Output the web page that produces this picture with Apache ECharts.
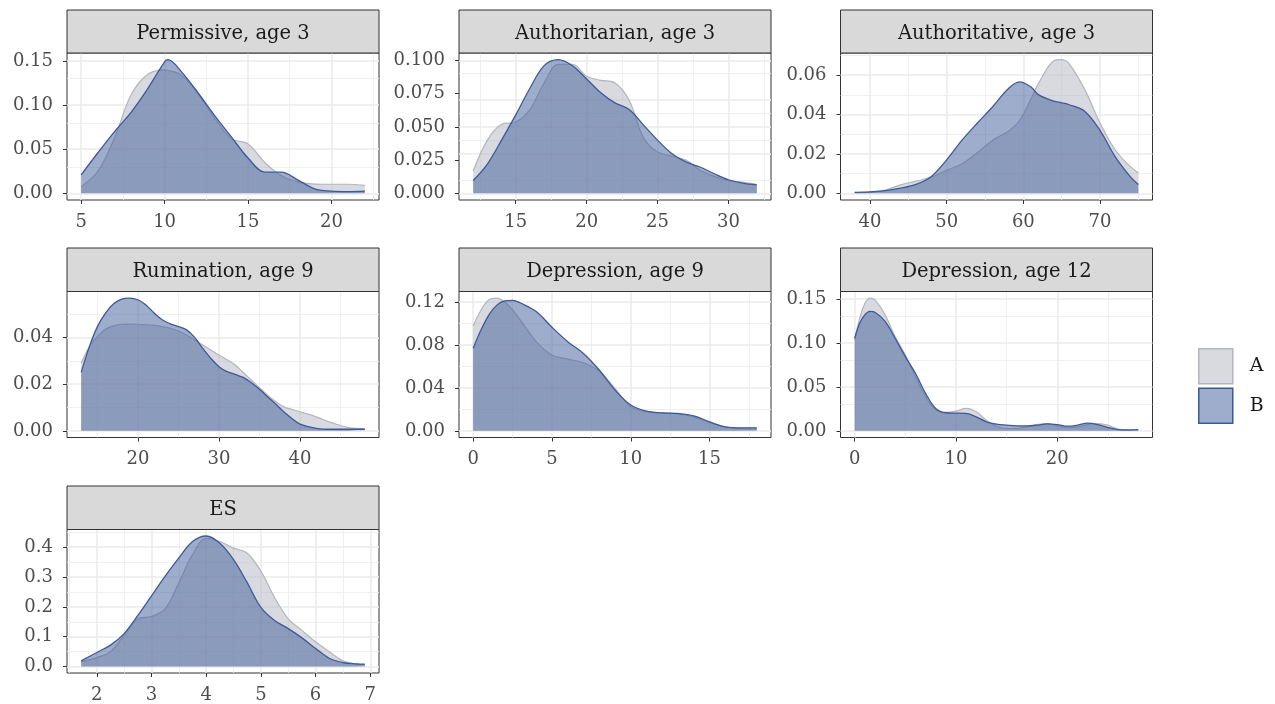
<!DOCTYPE html>
<html lang="en">
<head>
    <meta charset="UTF-8" />
    <title>Density by group</title>
    <script src="https://cdn.jsdelivr.net/npm/echarts@6/dist/echarts.min.js"></script>
    <style>
        html, body { margin: 0; padding: 0; background: #fff; }
        #main { width: 1275px; height: 704px; }
    </style>
</head>
<body>
<div id="main"></div>
<script>
    // ---- data (density estimates, groups A and B) ----
    var permX = [5, 6, 7, 8, 9, 10, 10.2, 11, 12, 13, 14, 15, 16, 17, 18, 19, 20, 21, 22];
    var permA = [0.0076, 0.025, 0.063, 0.112, 0.135, 0.140, 0.1395, 0.134, 0.113, 0.085, 0.062, 0.056, 0.035, 0.020, 0.013, 0.0105, 0.0103, 0.0103, 0.009];
    var permB = [0.021, 0.046, 0.070, 0.092, 0.119, 0.149, 0.1515, 0.138, 0.114, 0.088, 0.064, 0.040, 0.024, 0.024, 0.015, 0.005, 0.0025, 0.002, 0.0025];

    var authX = [12, 13, 14, 15, 16, 17, 18, 19, 20, 21, 22, 23, 24, 25, 26, 27, 28, 29, 30, 31, 32];
    var authA = [0.0168, 0.040, 0.052, 0.0536, 0.063, 0.083, 0.097, 0.097, 0.088, 0.085, 0.083, 0.070, 0.042, 0.031, 0.028, 0.025, 0.0173, 0.0127, 0.0096, 0.0084, 0.0066];
    var authB = [0.0096, 0.022, 0.040, 0.059, 0.079, 0.096, 0.1005, 0.096, 0.086, 0.0756, 0.068, 0.063, 0.0515, 0.040, 0.030, 0.0236, 0.0198, 0.0147, 0.0102, 0.0076, 0.0063];

    var authvX = [38, 40, 42, 44, 46, 48, 50, 52, 54, 56, 58, 59.5, 61, 62, 64, 65, 66, 68, 70, 72, 74, 75];
    var authvA = [0.0003, 0.0007, 0.0017, 0.0043, 0.0062, 0.0082, 0.0117, 0.015, 0.0206, 0.027, 0.0314, 0.037, 0.048, 0.056, 0.0674, 0.0679, 0.0657, 0.0528, 0.0357, 0.022, 0.0134, 0.0105];
    var authvB = [0.0005, 0.0007, 0.0014, 0.0026, 0.0045, 0.0086, 0.017, 0.027, 0.0357, 0.044, 0.053, 0.0566, 0.054, 0.050, 0.0468, 0.046, 0.045, 0.0417, 0.032, 0.0185, 0.0082, 0.0045];

    var rumX = [13, 14, 15, 16, 17, 18, 19, 20, 21, 22, 23, 24, 25, 26, 27, 28, 29, 30, 31, 32, 33, 34, 35, 36, 37, 38, 39, 40, 42, 44, 46, 48];
    var rumA = [0.029, 0.036, 0.0404, 0.0436, 0.045, 0.0457, 0.0458, 0.0457, 0.0455, 0.0452, 0.0447, 0.044, 0.0428, 0.0411, 0.039, 0.0368, 0.0347, 0.0325, 0.0305, 0.0282, 0.025, 0.0218, 0.0185, 0.0153, 0.0126, 0.0103, 0.0092, 0.0082, 0.006, 0.0034, 0.0014, 0.0009];
    var rumB = [0.0251, 0.036, 0.0447, 0.0505, 0.0545, 0.0565, 0.0569, 0.0562, 0.054, 0.0505, 0.0476, 0.0459, 0.0447, 0.0433, 0.0401, 0.0354, 0.0311, 0.0275, 0.0254, 0.0242, 0.0229, 0.0206, 0.0178, 0.0146, 0.0115, 0.0082, 0.0053, 0.0029, 0.0011, 0.0007, 0.0007, 0.0007];

    var dep9X = [0, 0.5, 1, 1.5, 2, 2.5, 3, 4, 5, 6, 7, 8, 9, 10, 11, 12, 13, 14, 15, 16, 17, 18];
    var dep9A = [0.0976, 0.1125, 0.122, 0.1235, 0.120, 0.1125, 0.103, 0.083, 0.0706, 0.0668, 0.0634, 0.0556, 0.0395, 0.0224, 0.0177, 0.0168, 0.0158, 0.013, 0.0078, 0.0037, 0.0022, 0.0016];
    var dep9B = [0.0768, 0.094, 0.108, 0.117, 0.121, 0.1215, 0.119, 0.111, 0.0964, 0.083, 0.072, 0.0566, 0.038, 0.024, 0.0183, 0.0168, 0.0162, 0.014, 0.0084, 0.0037, 0.0028, 0.0028];

    var dep12X = [0, 0.5, 1, 1.5, 2, 3, 4, 5, 6, 7, 8, 9, 10, 11, 12, 13, 14, 15, 16, 17, 18, 19, 20, 21, 22, 23, 24, 25, 26, 27, 28];
    var dep12A = [0.1035, 0.128, 0.145, 0.151, 0.149, 0.132, 0.107, 0.0864, 0.0617, 0.0388, 0.0236, 0.021, 0.0225, 0.0255, 0.0217, 0.0122, 0.0053, 0.0027, 0.0027, 0.0046, 0.0072, 0.0084, 0.0057, 0.0038, 0.0046, 0.0072, 0.0084, 0.0065, 0.0019, 0.0008, 0.0004];
    var dep12B = [0.1054, 0.1226, 0.132, 0.136, 0.135, 0.1245, 0.1054, 0.0845, 0.0655, 0.0426, 0.0255, 0.0206, 0.0202, 0.0198, 0.016, 0.0103, 0.0076, 0.0065, 0.0057, 0.0057, 0.0065, 0.008, 0.0072, 0.0053, 0.0065, 0.0088, 0.0072, 0.0038, 0.0015, 0.0011, 0.0015];

    var esX = [1.714, 2, 2.25, 2.5, 2.75, 3, 3.25, 3.5, 3.75, 4, 4.25, 4.5, 4.75, 5, 5.25, 5.5, 5.75, 6, 6.25, 6.5, 6.75, 6.9];
    var esA = [0.0165, 0.0298, 0.0496, 0.105, 0.160, 0.1675, 0.193, 0.281, 0.375, 0.43, 0.419, 0.397, 0.380, 0.320, 0.231, 0.16, 0.121, 0.0826, 0.0496, 0.0187, 0.0077, 0.0055];
    var esB = [0.0187, 0.047, 0.0716, 0.110, 0.171, 0.237, 0.303, 0.364, 0.419, 0.4375, 0.413, 0.358, 0.281, 0.198, 0.154, 0.127, 0.096, 0.0606, 0.0275, 0.0132, 0.0088, 0.0077];

    // tick labels
    var permXTicks = [5, 10, 15, 20],       permYTicks = [0, 0.05, 0.10, 0.15];
    var authXTicks = [15, 20, 25, 30],      authYTicks = [0, 0.025, 0.05, 0.075, 0.1];
    var authvXTicks = [40, 50, 60, 70],     authvYTicks = [0, 0.02, 0.04, 0.06];
    var rumXTicks = [20, 30, 40],           rumYTicks = [0, 0.02, 0.04];
    var dep9XTicks = [0, 5, 10, 15],        dep9YTicks = [0, 0.04, 0.08, 0.12];
    var dep12XTicks = [0, 10, 20],          dep12YTicks = [0, 0.05, 0.10, 0.15];
    var esXTicks = [2, 3, 4, 5, 6, 7],      esYTicks = [0, 0.1, 0.2, 0.3, 0.4];

    var panels = [
        {title: 'Permissive, age 3',    x: permX,  a: permA,  b: permB,  xt: permXTicks,  yt: permYTicks,  dec: 2},
        {title: 'Authoritarian, age 3', x: authX,  a: authA,  b: authB,  xt: authXTicks,  yt: authYTicks,  dec: 3},
        {title: 'Authoritative, age 3', x: authvX, a: authvA, b: authvB, xt: authvXTicks, yt: authvYTicks, dec: 2},
        {title: 'Rumination, age 9',    x: rumX,   a: rumA,   b: rumB,   xt: rumXTicks,   yt: rumYTicks,   dec: 2},
        {title: 'Depression, age 9',    x: dep9X,  a: dep9A,  b: dep9B,  xt: dep9XTicks,  yt: dep9YTicks,  dec: 2},
        {title: 'Depression, age 12',   x: dep12X, a: dep12A, b: dep12B, xt: dep12XTicks, yt: dep12YTicks, dec: 2},
        {title: 'ES',                   x: esX,    a: esA,    b: esB,    xt: esXTicks,    yt: esYTicks,    dec: 1}
    ];

    // ---- layout / style ----
    var FONT = 'DejaVu Serif';
    var colLeft = [67, 459, 840.5];
    var colW = 312;
    var rowPos = [
        {strip: 10,  top: 53,    h: 147},
        {strip: 248, top: 291.5, h: 146},
        {strip: 486, top: 529.5, h: 145}
    ];
    var A_LINE = '#b3b5bf', A_FILL = '#b3b5bf';
    var B_LINE = '#3b5a9a', B_FILL = '#3d5b99';

    function zip(xs, ys) {
        return xs.map(function (v, i) { return [v, ys[i]]; });
    }
    // ggplot-style minor breaks: midpoints between majors, plus half a step outside
    function minors(ticks, lo, hi) {
        var step = ticks[1] - ticks[0], out = [];
        for (var i = -1; i < ticks.length; i++) {
            var m = ticks[0] + step * (i + 0.5);
            if (m > lo && m < hi) out.push(m);
        }
        return out;
    }

    var grids = [], xAxes = [], yAxes = [], series = [], graphics = [];

    panels.forEach(function (p, i) {
        var r = rowPos[Math.floor(i / 3)], left = colLeft[i % 3];
        var xmin = Math.min.apply(null, p.x), xmax = Math.max.apply(null, p.x);
        var xpad = (xmax - xmin) * 0.05;
        var ymax = Math.max(Math.max.apply(null, p.a), Math.max.apply(null, p.b));
        var xlo = xmin - xpad, xhi = xmax + xpad, ylo = -0.05 * ymax, yhi = 1.05 * ymax;

        grids.push({
            left: left, top: r.top, width: colW, height: r.h,
            show: true, backgroundColor: '#fff', borderColor: '#333333', borderWidth: 1
        });
        xAxes.push({
            type: 'value', gridIndex: i, min: xlo, max: xhi,
            axisLine: {show: false, onZero: false},
            axisTick: {show: true, length: 4, lineStyle: {color: '#333333', width: 1}, customValues: p.xt},
            axisLabel: {customValues: p.xt, color: '#4d4d4d', fontFamily: FONT, fontSize: 18, margin: 13,
                formatter: function (v) { return String(Math.round(v)); }},
            splitLine: {show: false}
        });
        yAxes.push({
            type: 'value', gridIndex: i, min: ylo, max: yhi,
            axisLine: {show: false, onZero: false},
            axisTick: {show: true, length: 4, lineStyle: {color: '#333333', width: 1}, customValues: p.yt},
            axisLabel: {customValues: p.yt, color: '#4d4d4d', fontFamily: FONT, fontSize: 18, margin: 14,
                formatter: (function (d) { return function (v) { return v.toFixed(d); }; })(p.dec)},
            splitLine: {show: false}
        });

        // panel grid lines (major + minor) drawn under the densities
        var gl = [];
        p.xt.forEach(function (v) { gl.push({xAxis: v, lineStyle: {color: '#ebebeb', width: 1.5, type: 'solid'}}); });
        minors(p.xt, xlo, xhi).forEach(function (v) { gl.push({xAxis: v, lineStyle: {color: '#ebebeb', width: 0.8, type: 'solid'}}); });
        p.yt.forEach(function (v) { gl.push({yAxis: v, lineStyle: {color: '#ebebeb', width: 1.5, type: 'solid'}}); });
        minors(p.yt, ylo, yhi).forEach(function (v) { gl.push({yAxis: v, lineStyle: {color: '#ebebeb', width: 0.8, type: 'solid'}}); });
        series.push({
            name: 'grid' + i, type: 'line', xAxisIndex: i, yAxisIndex: i, z: 1, silent: true,
            data: [[xmin, 0]], symbol: 'none', lineStyle: {width: 0, opacity: 0},
            markLine: {z: 1, silent: true, symbol: ['none', 'none'], animation: false, label: {show: false}, data: gl}
        });

        series.push({
            name: 'A', type: 'line', xAxisIndex: i, yAxisIndex: i, z: 3,
            data: zip(p.x, p.a), smooth: 0.35, symbol: 'none',
            lineStyle: {color: A_LINE, width: 1.2},
            itemStyle: {color: A_LINE},
            areaStyle: {color: A_FILL, opacity: 0.5}
        });
        series.push({
            name: 'B', type: 'line', xAxisIndex: i, yAxisIndex: i, z: 4,
            data: zip(p.x, p.b), smooth: 0.35, symbol: 'none',
            lineStyle: {color: B_LINE, width: 1.3},
            itemStyle: {color: B_LINE},
            areaStyle: {color: B_FILL, opacity: 0.5}
        });

        // facet strip
        graphics.push({
            type: 'rect', z: 10,
            shape: {x: left, y: r.strip, width: colW, height: r.top - r.strip},
            style: {fill: '#d9d9d9', stroke: '#333333', lineWidth: 1}
        });
        graphics.push({
            type: 'text', z: 11,
            x: left + colW / 2, y: (r.strip + r.top) / 2 + 2,
            style: {text: p.title, align: 'center', verticalAlign: 'middle',
                fontFamily: FONT, fontSize: 19.5, fill: '#1a1a1a'}
        });
    });

    var chart = echarts.init(document.getElementById('main'));
    chart.setOption({
        animation: false,
        backgroundColor: '#fff',
        grid: grids,
        xAxis: xAxes,
        yAxis: yAxes,
        series: series,
        graphic: graphics,
        legend: {
            data: [
                {name: 'A', itemStyle: {color: 'rgba(179,181,191,0.5)', borderColor: A_LINE, borderWidth: 1.5}},
                {name: 'B', itemStyle: {color: 'rgba(61,91,153,0.5)', borderColor: B_LINE, borderWidth: 1.5}}
            ],
            icon: 'rect', orient: 'vertical', left: 1198, top: 348,
            itemWidth: 34, itemHeight: 35, itemGap: 3, padding: 0,
            selectedMode: false,
            textStyle: {fontFamily: FONT, fontSize: 19, color: '#1a1a1a', padding: [0, 0, 0, 12]}
        }
    });
</script>
</body>
</html>
